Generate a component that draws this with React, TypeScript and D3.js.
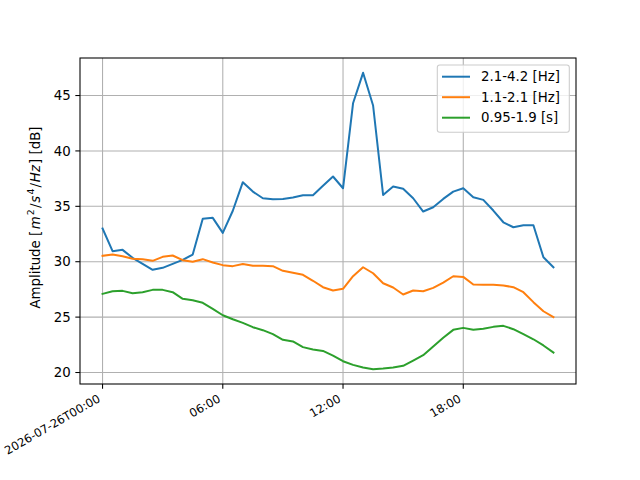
import React from "react";
import * as d3 from "d3";

const dayStart = "2026-07-26T00:00";
const times = [
  "00:00","00:30","01:00","01:30","02:00","02:30","03:00","03:30","04:00","04:30",
  "05:00","05:30","06:00","06:30","07:00","07:30","08:00","08:30","09:00","09:30",
  "10:00","10:30","11:00","11:30","12:00","12:30","13:00","13:30","14:00","14:30",
  "15:00","15:30","16:00","16:30","17:00","17:30","18:00","18:30","19:00","19:30",
  "20:00","20:30","21:00","21:30","22:00","22:30",
];
const tickTimes = ["00:00", "06:00", "12:00", "18:00"];
const yTicks = [20, 25, 30, 35, 40, 45];

const band1 = [
  33.0, 30.95, 31.07, 30.35, 29.8, 29.27, 29.45, 29.8, 30.17, 30.65,
  33.87, 33.96, 32.6, 34.6, 37.18, 36.33, 35.73, 35.64, 35.66, 35.8,
  36.0, 36.0, 36.85, 37.69, 36.63, 44.3, 47.05, 44.1, 36.03, 36.79,
  36.58, 35.73, 34.53, 34.92, 35.67, 36.33, 36.63, 35.82, 35.58, 34.62,
  33.56, 33.11, 33.29, 33.29, 30.4, 29.5,
];
const band2 = [
  30.53, 30.65, 30.5, 30.26, 30.23, 30.08, 30.44, 30.56, 30.14, 29.99,
  30.23, 29.93, 29.69, 29.6, 29.8, 29.63, 29.63, 29.6, 29.18, 29.0,
  28.82, 28.28, 27.7, 27.4, 27.55, 28.69, 29.5, 28.96, 28.06, 27.67,
  27.04, 27.4, 27.34, 27.64, 28.12, 28.69, 28.63, 27.94, 27.91, 27.91,
  27.85, 27.7, 27.25, 26.35, 25.53, 25.0,
];
const band3 = [
  27.1, 27.34, 27.37, 27.16, 27.25, 27.46, 27.46, 27.25, 26.65, 26.53,
  26.29, 25.75, 25.17, 24.81, 24.48, 24.09, 23.82, 23.46, 22.95, 22.8,
  22.29, 22.08, 21.95, 21.53, 21.02, 20.69, 20.45, 20.3, 20.36, 20.45,
  20.6, 21.08, 21.56, 22.35, 23.13, 23.85, 24.03, 23.85, 23.94, 24.12,
  24.21, 23.91, 23.46, 23.0, 22.44, 21.8,
];
const seriesNames = ["2.1-4.2 [Hz]", "1.1-2.1 [Hz]", "0.95-1.9 [s]"];
const seriesColors = ["#1f77b4", "#ff7f0e", "#2ca02c"];

const W = 640, H = 480;
const L = 80, R = 576, T = 58, B = 384;
const FONT = "DejaVu Sans";

const day = dayStart.slice(0, 10);
const toDate = (hm: string) => new Date(`${day}T${hm}:00Z`);

export default function App() {
  const dates = times.map(toDate);
  const t0 = +dates[0], t1 = +dates[dates.length - 1];
  const xm = (t1 - t0) * 0.05;
  const x = d3.scaleUtc().domain([new Date(t0 - xm), new Date(t1 + xm)]).range([L, R]);

  const all = [...band1, ...band2, ...band3];
  const ymin = d3.min(all)!, ymax = d3.max(all)!;
  const ym = (ymax - ymin) * 0.05;
  const y = d3.scaleLinear().domain([ymin - ym, ymax + ym]).range([B, T]);

  const series = [band1, band2, band3];
  const line = d3
    .line<number>()
    .x((_, i) => x(dates[i]))
    .y((v) => y(v));

  const tickLen = 4.67;
  const grid = "#b0b0b0";
  const xFs = 11.6;

  return (
    <svg
      width={W}
      height={H}
      style={{ position: "absolute", left: 0, top: 0, background: "#fff" }}
      fontFamily={FONT}
    >
      <rect x={0} y={0} width={W} height={H} fill="#fff" />
      {/* grid */}
      {tickTimes.map((t) => (
        <line key={"gx" + t} x1={x(toDate(t))} x2={x(toDate(t))} y1={T} y2={B} stroke={grid} strokeWidth={1.07} />
      ))}
      {yTicks.map((v) => (
        <line key={"gy" + v} x1={L} x2={R} y1={y(v)} y2={y(v)} stroke={grid} strokeWidth={1.07} />
      ))}
      {/* lines */}
      {series.map((s, i) => (
        <path key={i} d={line(s) || ""} fill="none" stroke={seriesColors[i]} strokeWidth={2} strokeLinejoin="round" strokeLinecap="square" />
      ))}
      {/* spines */}
      <rect x={L} y={T} width={R - L} height={B - T} fill="none" stroke="#000" strokeWidth={1.07} />
      {/* y ticks */}
      {yTicks.map((v) => (
        <g key={"yt" + v}>
          <line x1={L - tickLen} x2={L} y1={y(v)} y2={y(v)} stroke="#000" strokeWidth={1.07} />
          <text x={L - tickLen - 4.67} y={y(v)} dy="0.35em" textAnchor="end" fontSize={13.33}>
            {v}
          </text>
        </g>
      ))}
      {/* x ticks */}
      {tickTimes.map((t, i) => {
        const px = x(toDate(t));
        const label = i === 0 ? dayStart : t;
        return (
          <g key={"xt" + t}>
            <line x1={px} x2={px} y1={B} y2={B + tickLen} stroke="#000" strokeWidth={1.07} />
            <text
              transform={`translate(${px - 1.5},${B + tickLen + 4.67 + 0.66 * xFs}) rotate(-30)`}
              textAnchor="end"
              fontSize={xFs}
            >
              {label}
            </text>
          </g>
        );
      })}
      {/* y label */}
      <text transform={`translate(39.5,217.5) rotate(-90)`} textAnchor="middle" fontSize={13.33}>
        Amplitude [<tspan fontStyle="italic" dx={1.5}>m</tspan>
        <tspan fontSize={9.3} dy={-5.5} dx={1.2}>2</tspan>
        <tspan dy={5.5} dx={1.2}>/</tspan>
        <tspan fontStyle="italic" dx={0.8}>s</tspan>
        <tspan fontSize={9.3} dy={-5.5} dx={1.2}>4</tspan>
        <tspan dy={5.5} dx={1.2}>/</tspan>
        <tspan fontStyle="italic" dx={0.8}>Hz</tspan>
        <tspan dx={1.2}>] [dB]</tspan>
      </text>
      {/* legend */}
      <rect x={437.3} y={65} width={132} height={67.3} rx={2.5} fill="#fff" fillOpacity={0.8} stroke="#cccccc" strokeWidth={1.07} />
      {seriesNames.map((n, i) => {
        const ly = 76.7 + i * 20.5;
        return (
          <g key={"lg" + i}>
            <line x1={442} x2={470} y1={ly} y2={ly} stroke={seriesColors[i]} strokeWidth={2} />
            <text x={481} y={ly} dy="0.35em" fontSize={13.33}>
              {n}
            </text>
          </g>
        );
      })}
    </svg>
  );
}
